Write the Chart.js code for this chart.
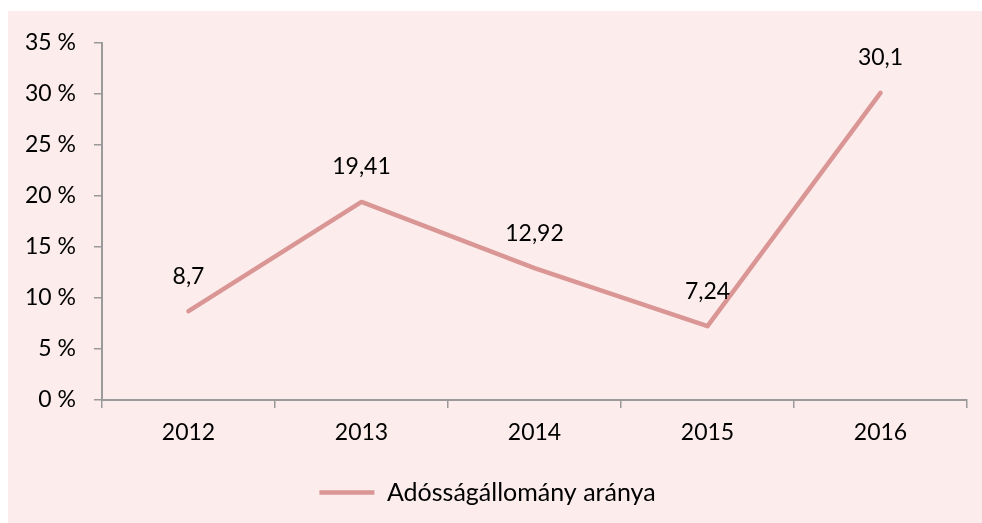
<!DOCTYPE html>
<html>
<head>
<meta charset="utf-8">
<script src="https://cdn.jsdelivr.net/npm/chart.js@4"></script>
<style>
  html, body { margin: 0; padding: 0; background: #ffffff; }
  #wrap { position: absolute; left: 8px; top: 11px; width: 974px; height: 512px; background: #fcecec; }
  canvas { display: block; }
</style>
</head>
<body>
<div id="wrap"><canvas id="c"></canvas></div>
<script>
const categories = ['2012', '2013', '2014', '2015', '2016'];
const seriesName = 'Adósságállomány aránya';
const seriesValues = [8.7, 19.41, 12.92, 7.24, 30.1];
const yTicks = [0, 5, 10, 15, 20, 25, 30, 35];

const FONT = 'Lato, "Open Sans", sans-serif';
const LINE = '#d99694';
const AXIS = '#9a9a9a';

const dataLabels = {
  id: 'dataLabels',
  afterDatasetsDraw(chart) {
    const ctx = chart.ctx;
    const meta = chart.getDatasetMeta(0);
    ctx.save();
    ctx.font = '23px ' + FONT;
    ctx.fillStyle = '#000000';
    ctx.textAlign = 'center';
    ctx.textBaseline = 'middle';
    meta.data.forEach((pt, i) => {
      const txt = String(seriesValues[i]).replace('.', ',');
      ctx.fillText(txt, pt.x, pt.y - 35);
    });
    ctx.restore();
  }
};

new Chart(document.getElementById('c'), {
  type: 'line',
  data: {
    labels: categories,
    datasets: [{
      label: seriesName,
      data: seriesValues,
      borderColor: LINE,
      backgroundColor: LINE,
      borderWidth: 4.5,
      borderCapStyle: 'round',
      borderJoinStyle: 'round',
      pointRadius: 0,
      pointHoverRadius: 0,
      pointStyle: 'line',
      tension: 0
    }]
  },
  options: {
    responsive: true,
    maintainAspectRatio: false,
    animation: false,
    events: [],
    layout: { padding: { left: 0, right: 15, top: 30, bottom: 8 } },
    scales: {
      x: {
        type: 'category',
        offset: true,
        grid: { offset: true, drawOnChartArea: false, drawTicks: true, tickLength: 8, color: AXIS, lineWidth: 1.5 },
        border: { color: AXIS, width: 2 },
        ticks: { color: '#000', font: { family: FONT, size: 23 }, padding: 11, maxRotation: 0 },
        afterFit(scale) { scale.height = 70; }
      },
      y: {
        min: 0,
        max: 35,
        afterBuildTicks(scale) { scale.ticks = yTicks.map(v => ({ value: v })); },
        grid: { drawOnChartArea: false, drawTicks: true, tickLength: 8, color: AXIS, lineWidth: 1.5 },
        border: { color: AXIS, width: 2 },
        ticks: { color: '#000', font: { family: FONT, size: 23 }, padding: 18, callback: v => v + ' %' },
        afterFit(scale) { scale.width = 94; }
      }
    },
    plugins: {
      legend: {
        position: 'bottom',
        labels: {
          usePointStyle: true,
          pointStyle: 'line',
          pointStyleWidth: 55,
          color: '#000',
          font: { family: FONT, size: 25 },
          padding: 10
        }
      },
      tooltip: { enabled: false }
    }
  },
  plugins: [dataLabels]
});
</script>
</body>
</html>
